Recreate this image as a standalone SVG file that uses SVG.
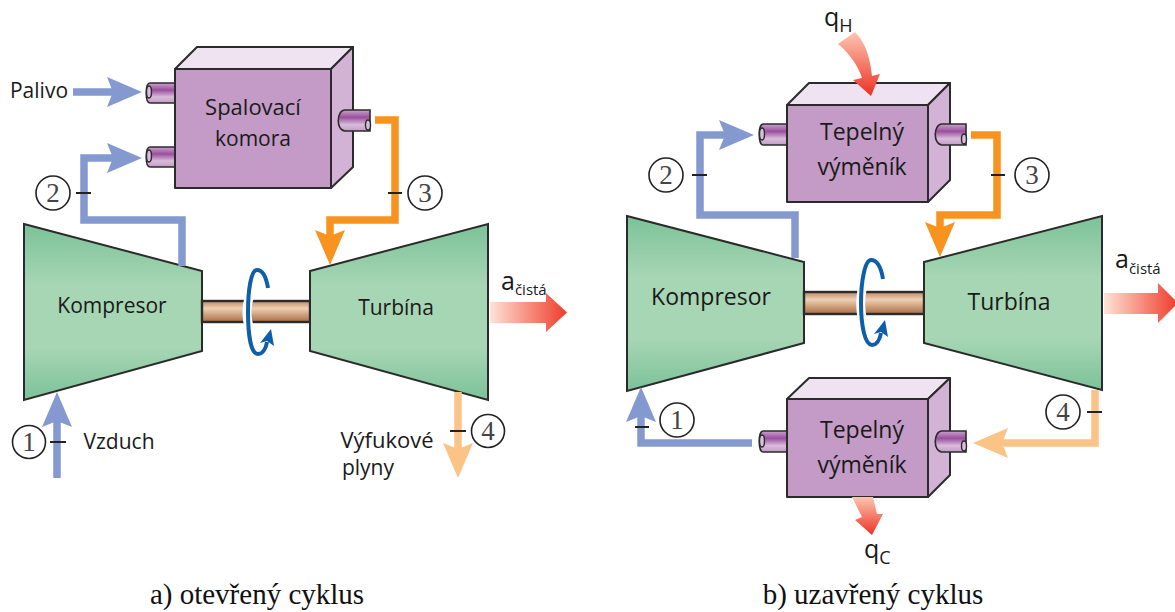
<svg xmlns="http://www.w3.org/2000/svg" width="1175" height="612" viewBox="0 0 1175 612">
<style>
.lbl{font-family:"Open Sans","Noto Sans",sans-serif;font-size:21px;fill:#1a1a1a;text-anchor:middle}
.lg{font-size:23px}
.mid{font-size:22px}
.sym{font-family:"Open Sans","Noto Sans",sans-serif;font-size:25px;fill:#1a1a1a}
.sub{font-size:15px}
.subq{font-size:18px}
.cap{font-family:"Liberation Serif",serif;font-size:29px;fill:#111;text-anchor:middle}
.num{font-family:"Liberation Serif",serif;font-size:27px;fill:#444;text-anchor:middle}
.ring{fill:#fff;stroke:#222;stroke-width:1.6}
.tick{stroke:#222;stroke-width:2;fill:none}
.edge{fill:none;stroke-width:7.5}
.blue{stroke:#8499d0}.orange{stroke:#f7931e}.pale{stroke:#fcc386}
.front{fill:#c49ac6;stroke:#2b2b2b;stroke-width:2;stroke-linejoin:round}
.top{fill:#efe3f1;stroke:#2b2b2b;stroke-width:2;stroke-linejoin:round}
.side{fill:#d3b3d5;stroke:#2b2b2b;stroke-width:2;stroke-linejoin:round}
.pipe{fill:url(#pipeG);stroke:#2b2b2b;stroke-width:1.6}
.endcap{fill:#d9bfdb;stroke:#2b2b2b;stroke-width:1.4}
.mach{fill:url(#machG);stroke:#2b2b2b;stroke-width:2;stroke-linejoin:miter}
.shaft{fill:url(#shaftG);stroke:#2b2b2b;stroke-width:2.4}
.halo{fill:none;stroke:#fff;stroke-width:9}
.rot{fill:none;stroke:#0f5fa8;stroke-width:4}
.rothead{fill:#0f5fa8}
</style>
<defs>
<linearGradient id="machG" x1="0" y1="0" x2="0" y2="1"><stop offset="0" stop-color="#7cc298"/><stop offset="0.35" stop-color="#a7d6b4"/><stop offset="0.7" stop-color="#a7d6b4"/><stop offset="1" stop-color="#7cc298"/></linearGradient>
<linearGradient id="pipeG" x1="0" y1="0" x2="0" y2="1"><stop offset="0" stop-color="#c9a3cb"/><stop offset="0.35" stop-color="#9b4f9e"/><stop offset="0.7" stop-color="#d8bdda"/><stop offset="1" stop-color="#c49ac6"/></linearGradient>
<linearGradient id="shaftG" x1="0" y1="0" x2="0" y2="1"><stop offset="0" stop-color="#c08a63"/><stop offset="0.35" stop-color="#eed0b4"/><stop offset="0.7" stop-color="#c99a74"/><stop offset="1" stop-color="#a86f48"/></linearGradient>
<linearGradient id="workG" x1="0" y1="0" x2="1" y2="0"><stop offset="0" stop-color="#fde3d6"/><stop offset="1" stop-color="#ef3b2a"/></linearGradient>
<linearGradient id="heatG" x1="0" y1="0" x2="0" y2="1"><stop offset="0" stop-color="#fbc7b0"/><stop offset="1" stop-color="#ef3024"/></linearGradient>
<marker id="hb" viewBox="0 0 35 30" refX="8" refY="15" markerWidth="35" markerHeight="30" markerUnits="userSpaceOnUse" orient="auto"><path d="M0 0L35 15L0 30L6 15Z" fill="#8499d0"/></marker>
<marker id="ho" viewBox="0 0 35 30" refX="8" refY="15" markerWidth="35" markerHeight="30" markerUnits="userSpaceOnUse" orient="auto"><path d="M0 0L35 15L0 30L6 15Z" fill="#f7931e"/></marker>
<marker id="hp" viewBox="0 0 35 30" refX="8" refY="15" markerWidth="35" markerHeight="30" markerUnits="userSpaceOnUse" orient="auto"><path d="M0 0L35 15L0 30L6 15Z" fill="#fcc386"/></marker>
</defs>

<g id="spalovaci-komora">
<path class="pipe" d="M150 83H175V103H150C145 103 145 83 150 83Z"/>
<ellipse class="endcap" cx="149" cy="92" rx="2.500" ry="6"/>
<path class="pipe" d="M150 147H175V167H150C145 167 145 147 150 147Z"/>
<ellipse class="endcap" cx="149" cy="156" rx="2.500" ry="6"/>
<path class="top" d="M175 69L197 47H353L331 69Z"/>
<path class="side" d="M331 69L353 47V167L331 188Z"/>
<rect class="front" x="175" y="69" width="156" height="119"/>
<path class="pipe" d="M345 110H370V131H345C336 131 336 110 345 110Z"/>
<ellipse class="endcap" cx="368" cy="125" rx="2.500" ry="5"/>
<text class="lbl mid" x="253" y="115">Spalovací</text>
<text class="lbl" x="253" y="146">komora</text>
</g>

<g id="kompresor-a">
<path class="mach" d="M24 224L202 271V351L24 400Z"/>
<text class="lbl" x="112" y="313">Kompresor</text>
</g>
<g id="hridel-a">
<rect class="shaft" x="202" y="301" width="108" height="21"/>
<path class="halo" d="M250 296C246 305 246 320 250 328"/>
<path class="rot" d="M268 288C266 276 262 270 257 270C251 270 248 290 248 312C248 335 251 354 258 354C263 354 266 348 267 342"/>
<path class="rothead" d="M271 329L274 346L267 341L260 343Z"/>
</g>
<g id="turbina-a">
<path class="mach" d="M310 271L488 224V400L310 351Z"/>
<text class="lbl" x="396" y="315">Turbína</text>
</g>

<g id="vymenik-h">
<path class="pipe" d="M763 124H787V145H763C758 145 758 124 763 124Z"/>
<ellipse class="endcap" cx="762" cy="134" rx="2.500" ry="6"/>
<path class="top" d="M787 105L809 83H950L928 105Z"/>
<path class="side" d="M928 105L950 83V180L928 202Z"/>
<rect class="front" x="787" y="105" width="141" height="97"/>
<path class="pipe" d="M942 124H966V145H942C933 145 933 124 942 124Z"/>
<ellipse class="endcap" cx="964" cy="139" rx="2.500" ry="5"/>
<text class="lbl lg" x="862" y="140">Tepelný</text>
<text class="lbl lg" x="862" y="175">výměník</text>
</g>
<g id="vymenik-c">
<path class="pipe" d="M763 431H787V452H763C758 452 758 431 763 431Z"/>
<ellipse class="endcap" cx="762" cy="441" rx="2.500" ry="6"/>
<path class="top" d="M787 399L809 378H950L928 399Z"/>
<path class="side" d="M928 399L950 378V475L928 497Z"/>
<rect class="front" x="787" y="399" width="141" height="98"/>
<path class="pipe" d="M942 431H966V452H942C933 452 933 431 942 431Z"/>
<ellipse class="endcap" cx="964" cy="446" rx="2.500" ry="5"/>
<text class="lbl lg" x="862" y="438">Tepelný</text>
<text class="lbl lg" x="862" y="473">výměník</text>
</g>
<g id="kompresor-b">
<path class="mach" d="M627 216L804 262V343L627 391Z"/>
<text class="lbl lg" x="711" y="305">Kompresor</text>
</g>
<g id="hridel-b">
<rect class="shaft" x="804" y="292" width="120" height="22"/>
<path class="halo" d="M863 286C860 296 860 312 863 320"/>
<path class="rot" d="M883 279C881 267 877 260 871 260C865 260 861 281 861 303C861 326 865 345 872 345C877 345 880 339 881 333"/>
<path class="rothead" d="M885 320L888 337L881 332L874 334Z"/>
</g>
<g id="turbina-b">
<path class="mach" d="M924 262L1102 216V390L924 343Z"/>
<text class="lbl lg" x="1009" y="310">Turbína</text>
</g>

<g id="connectors">
<path class="edge blue" marker-end="url(#hb)" d="M73 92H115"/>
<path class="edge blue" marker-end="url(#hb)" d="M182 266V220H84V158H115"/>
<path class="edge orange" marker-end="url(#ho)" d="M375 120H395V220H330V238"/>
<path class="edge pale" marker-end="url(#hp)" d="M458 392V451"/>
<path class="edge blue" marker-end="url(#hb)" d="M57 478V419"/>
<path class="edge blue" marker-end="url(#hb)" d="M795 258V215H700V135H727"/>
<path class="edge orange" marker-end="url(#ho)" d="M971 135H997V215H940V230"/>
<path class="edge blue" marker-end="url(#hb)" d="M752 443H641V414"/>
<path class="edge pale" marker-end="url(#hp)" d="M1095 390V443H1000"/>
<path d="M490 302H546V293L567 312.500L546 332V323H490Z" fill="url(#workG)"/>
<path d="M1104 293H1158V283L1178 303L1158 323V314H1104Z" fill="url(#workG)"/>
<path d="M838 44L855 32C867 44 870 60 872 76L880 74L871 96L853 80L862 78C858 66 850 54 838 44Z" fill="url(#heatG)"/>
<path d="M852 497H873L877 514L883 514L872 535L855 520L862 517Z" fill="url(#heatG)"/>
<path class="tick" d="M76 193H91M388 193H402M450 431H466M50 442H66M692 175H707M991 175H1005M635 427H649M1087 412H1102"/>
</g>

<g id="labels">
<text class="lbl" x="39" y="98">Palivo</text>
<text class="lbl" x="119" y="449">Vzduch</text>
<text class="lbl mid" x="387" y="448">Výfukové</text>
<text class="lbl" x="368" y="475">plyny</text>
<text class="sym" x="501" y="290">a<tspan class="sub" dy="5">čistá</tspan></text>
<text class="sym" x="1115" y="268">a<tspan class="sub" dy="6">čistá</tspan></text>
<text class="sym" x="824" y="26">q<tspan class="subq" dy="6">H</tspan></text>
<text class="sym" x="864" y="558">q<tspan class="subq" dy="6">C</tspan></text>
<text class="cap" x="257" y="604">a) otevřený cyklus</text>
<text class="cap" x="873" y="604">b) uzavřený cyklus</text>
</g>

<g id="states">
<circle class="ring" cx="53" cy="193" r="17"/><text class="num" x="53" y="202">2</text>
<circle class="ring" cx="425" cy="193" r="17"/><text class="num" x="425" y="202">3</text>
<circle class="ring" cx="488" cy="431" r="16.500"/><text class="num" x="488" y="440">4</text>
<circle class="ring" cx="29" cy="442" r="16.500"/><text class="num" x="29" y="451">1</text>
<circle class="ring" cx="666" cy="175" r="17"/><text class="num" x="666" y="184">2</text>
<circle class="ring" cx="1032" cy="175" r="17"/><text class="num" x="1032" y="184">3</text>
<circle class="ring" cx="677" cy="420" r="17"/><text class="num" x="677" y="429">1</text>
<circle class="ring" cx="1063" cy="412" r="17"/><text class="num" x="1063" y="421">4</text>
</g>
</svg>
